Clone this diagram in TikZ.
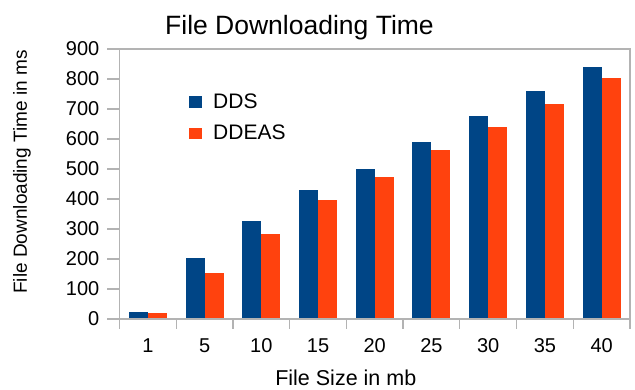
\documentclass[tikz,border=0pt]{standalone}
\usepackage{fontspec}
\setmainfont{Liberation Sans}
\usepackage{tikz}
\definecolor{ddsblue}{RGB}{0,69,134}
\definecolor{ddeasred}{RGB}{255,66,14}
\definecolor{axisgray}{RGB}{179,179,179}

\begin{document}
\begin{tikzpicture}[x=1pt, y=-1pt,
    axisline/.style={axisgray, line width=1.3pt},
    ticklabel/.style={inner sep=0pt, font=\fontsize{20}{24}\selectfont}]
  \useasboundingbox (0,0) rectangle (635,389);
  % bars, one pair per file size
  \foreach \i/\lab/\a/\b in {0/1/24/19, 1/5/202/154, 2/10/327/283, 3/15/429/398,
      4/20/500/472, 5/25/591/564, 6/30/678/641, 7/35/760/717, 8/40/841/802} {
    \pgfmathsetmacro{\xl}{119.5+56.72*\i}
    \fill[ddsblue] (\xl+9.3,319) rectangle (\xl+28.3,319-0.3*\a);
    \fill[ddeasred] (\xl+28.3,319) rectangle (\xl+47.3,319-0.3*\b);
    \draw[axisline] (\xl+56.72,319) -- (\xl+56.72,329);
    \node[ticklabel, anchor=base] (xt\i) at (\xl+28.36,352.7) {\lab};
  }
  % axes and frame
  \draw[axisline] (119.5,49) -- (630,49) -- (630,329);
  \draw[axisline] (119.5,49) -- (119.5,329);
  \draw[axisline] (119.5,319) -- (630,319);
  \foreach \v in {0,100,...,900} {
    \draw[axisline] (107,319-0.3*\v) -- (119.5,319-0.3*\v);
    \node[ticklabel, anchor=east] (yt\v) at (99.5,319-0.3*\v) {\v};
  }
  % legend
  \fill[ddsblue] (188.5,95.5) rectangle (202,107.5);
  \node[anchor=west, inner sep=0pt, font=\fontsize{21}{25}\selectfont] (lgdds) at (213,101) {DDS};
  \fill[ddeasred] (188.5,127.5) rectangle (202,139);
  \node[anchor=west, inner sep=0pt, font=\fontsize{21}{25}\selectfont] (lgddeas) at (213,132.5) {DDEAS};
  % titles
  \node[anchor=base west, inner sep=0pt, font=\fontsize{26.5}{30}\selectfont] (ttl) at (165,34) {File Downloading Time};
  \node[anchor=base, inner sep=0pt, font=\fontsize{21.5}{26}\selectfont] (xlab) at (345.8,385.7) {File Size in mb};
  \node[anchor=base, rotate=90, inner sep=0pt, font=\fontsize{19}{23}\selectfont] (ylab) at (27,172) {File Downloading Time in ms};
\end{tikzpicture}
\end{document}
